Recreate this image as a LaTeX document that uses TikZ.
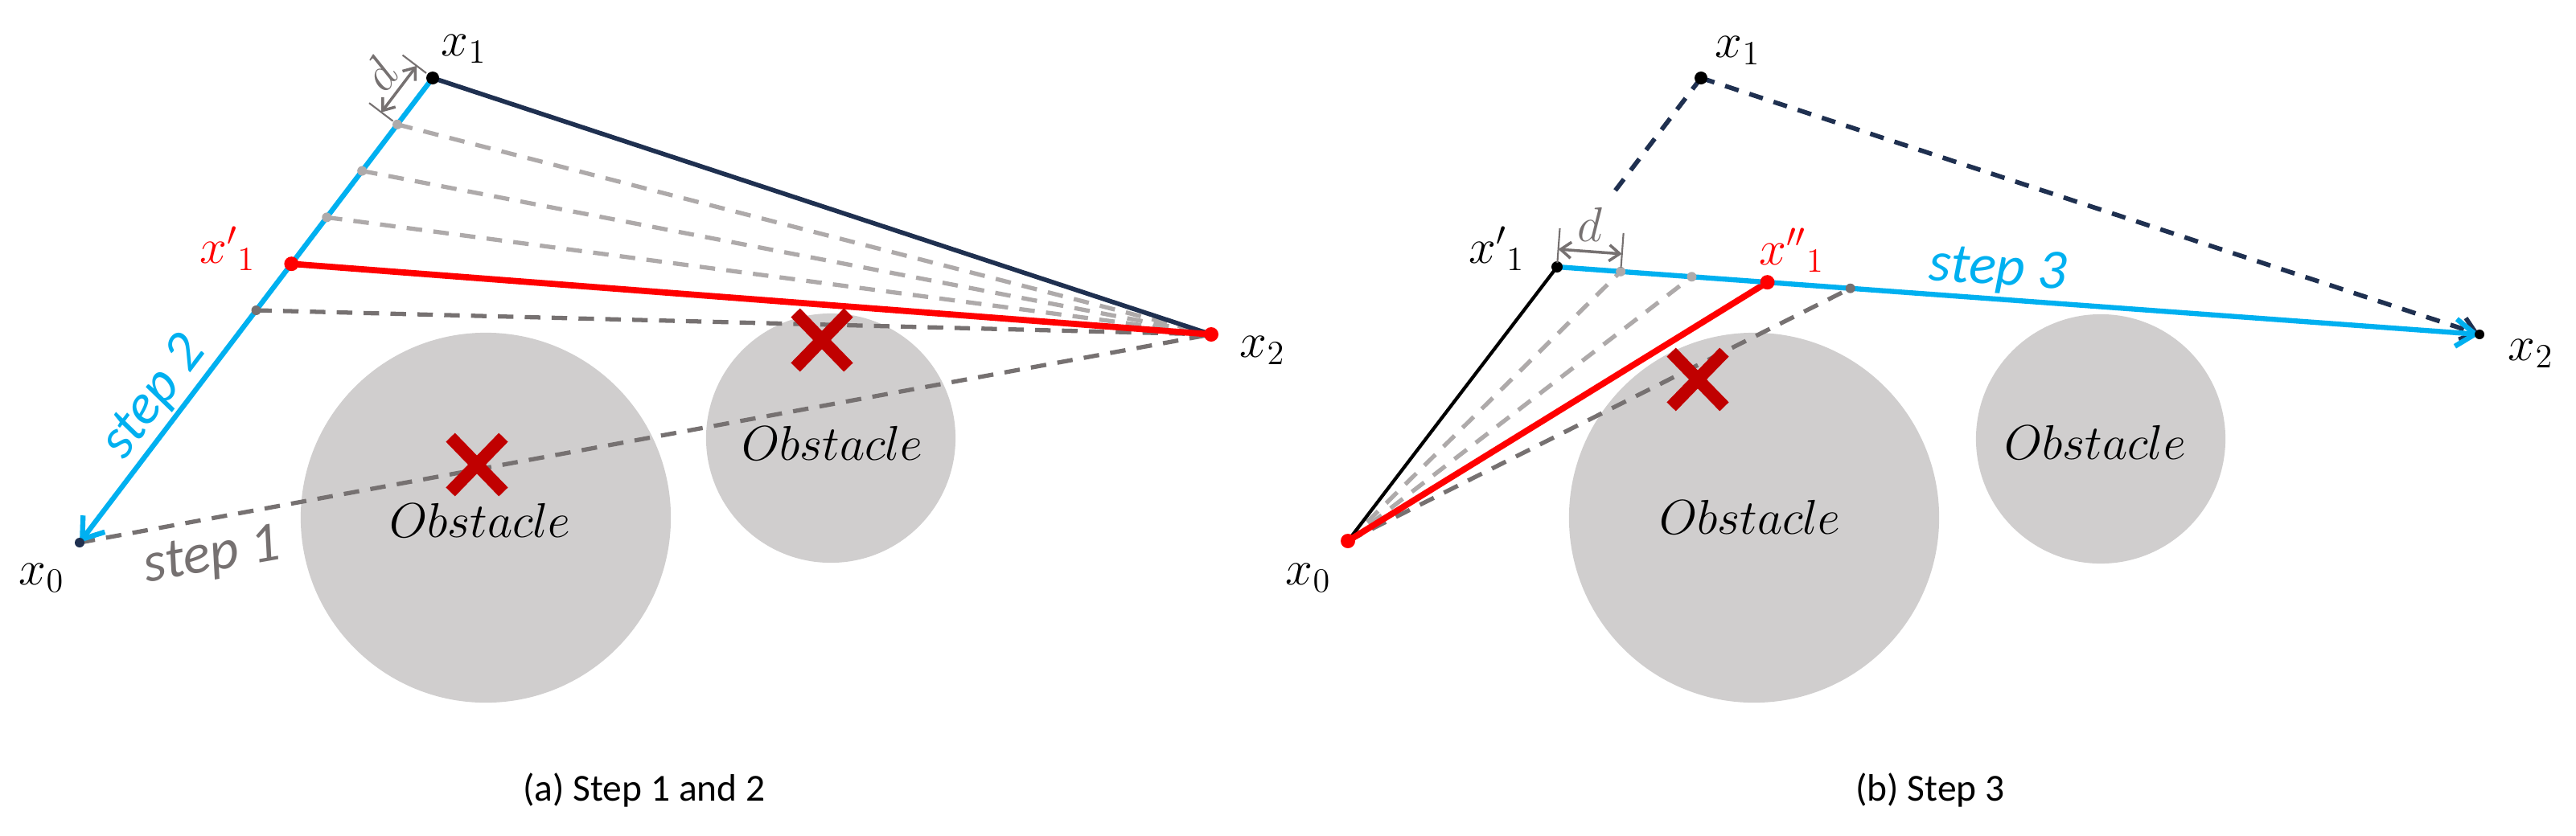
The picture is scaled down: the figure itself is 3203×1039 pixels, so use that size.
\documentclass[tikz,border=0pt]{standalone}
\usepackage[no-math]{fontspec}
\setmainfont{Carlito}
\usepackage{tikz}
\usetikzlibrary{arrows.meta,calc,shapes.misc,positioning}
\definecolor{stepBlue}{HTML}{00B0F0}
\definecolor{pathNavy}{HTML}{1F3050}
\definecolor{hitRed}{HTML}{C00000}
\definecolor{obsGray}{HTML}{D0CECE}
\definecolor{darkDash}{HTML}{767171}
\definecolor{lightDash}{HTML}{AEAAAA}
\tikzset{
    obstacle/.style={fill=obsGray},
    obsText/.style={font=\fontsize{18.5}{20}\selectfont, inner sep=0pt},
    ptLabel/.style={font=\fontsize{18}{20}\selectfont, inner sep=0pt},
    stepText/.style={font=\fontsize{20}{22}\selectfont\itshape, inner sep=1pt},
    capText/.style={font=\fontsize{13.5}{16}\selectfont},
    hit/.style={cross out, draw=hitRed, line width=4.5pt, minimum width=0.5cm, minimum height=0.52cm, inner sep=0pt},
    % Paths
    navyLine/.style={draw=pathNavy, line width=1.6pt},
    navyDash/.style={draw=pathNavy, line width=1.6pt, dash pattern=on 5pt off 4pt},
    bluePath/.style={draw=stepBlue, line width=1.8pt, -{Straight Barb[length=2.4mm, width=3.4mm]}},
    redPath/.style={draw=red, line width=2.2pt},
    ltDash/.style={draw=lightDash, line width=1.5pt, dash pattern=on 5.5pt off 4pt},
    dkDash/.style={draw=darkDash, line width=1.5pt, dash pattern=on 5.5pt off 4pt},
    dimLine/.style={draw=darkDash, line width=0.6pt},
    dimArrow/.style={draw=darkDash, line width=1pt, {Straight Barb[length=1.3mm, width=2mm]}-{Straight Barb[length=1.3mm, width=2mm]}}
}

\begin{document}
\begin{tikzpicture}[x=0.01cm, y=-0.01cm]
\useasboundingbox (0,0) rectangle (3203,1039);

% ---------- (a) Step 1 and 2 ----------
\coordinate (x0a) at (99,675);
\coordinate (x1a) at (538,97);
\coordinate (x2a) at (1506,416);
\coordinate (pa1) at ($(x1a)!0.1!(x0a)$);
\coordinate (pa2) at ($(x1a)!0.2!(x0a)$);
\coordinate (pa3) at ($(x1a)!0.3!(x0a)$);
\coordinate (x1pa) at ($(x1a)!0.4!(x0a)$);
\coordinate (pa5) at ($(x1a)!0.5!(x0a)$);

\fill[obstacle] (604,644) circle[radius=2.3cm];
\fill[obstacle] (1033,545) circle[radius=1.55cm];
\node[obsText] (obsA1) at (597,647) {$Obstacle$};
\node[obsText] (obsA2) at (1035,551) {$Obstacle$};

\foreach \p in {pa1,pa2,pa3}
    \draw[ltDash] (\p) -- (x2a);
\draw[dkDash] (pa5) -- (x2a);
\draw[dkDash] (x0a) -- (x2a);
\draw[navyLine] (x1a) -- (x2a);
\draw[redPath] (x1pa) -- (x2a);
\draw[bluePath] (x1a) -- (x0a);

\node[hit] (hitA1) at (593,578) {};
\node[hit] (hitA2) at (1022,423) {};

\foreach \p in {pa1,pa2,pa3}
    \fill[lightDash] (\p) circle[radius=0.06cm];
\fill[darkDash] (pa5) circle[radius=0.06cm];
\fill[red] (x1pa) circle[radius=0.09cm];
\fill[red] (x2a) circle[radius=0.09cm];
\fill[black] (x1a) circle[radius=0.08cm];
\fill[pathNavy] (x0a) circle[radius=0.06cm];

% distance d
\draw[dimLine] ($(x1a)!0.1cm!-90:(x0a)$) -- ($(x1a)!0.47cm!-90:(x0a)$);
\draw[dimLine] ($(pa1)!0.07cm!90:(x1a)$) -- ($(pa1)!0.44cm!90:(x1a)$);
\draw[dimArrow] ($(x1a)!0.25cm!-90:(x0a)$) -- node[sloped, above, ptLabel, text=darkDash, inner sep=2pt] (dA) {$d$} ($(pa1)!0.25cm!90:(x1a)$);

\node[ptLabel] (lx1a) at (577,61) {$x_1$};
\node[ptLabel, text=red] (lx1pa) at (283,309) {${x'}_1$};
\node[ptLabel] (lx0a) at (52,719) {$x_0$};
\node[ptLabel] (lx2a) at (1570,436) {$x_2$};
\node[stepText, text=stepBlue, rotate=52.8] (step2) at (192,495) {step 2};
\node[stepText, text=darkDash, rotate=10] (step1) at (264,693) {step 1};

\node[capText] (capA) at (801,983) {(a) Step 1 and 2};

% ---------- (b) Step 3 ----------
\coordinate (x0b) at (1676,673);
\coordinate (x1b) at (2115,97);
\coordinate (x1pb) at (1936,332);
\coordinate (x2b) at (3083,416);
\coordinate (gb1) at ($(x1pb)!0.069!(x2b)$);
\coordinate (gb2) at ($(x1pb)!0.146!(x2b)$);
\coordinate (x2pb) at ($(x1pb)!0.228!(x2b)$);
\coordinate (gb4) at ($(x1pb)!0.318!(x2b)$);
\coordinate (cutb) at ($(x1b)!0.6!(x1pb)$);

\fill[obstacle] (2181,644) circle[radius=2.3cm];
\fill[obstacle] (2612,546) circle[radius=1.55cm];
\node[obsText] (obsB1) at (2176,643) {$Obstacle$};
\node[obsText] (obsB2) at (2605,550) {$Obstacle$};

\draw[navyDash] (x1b) -- (cutb);
\draw[navyDash, -{Straight Barb[length=1.8mm, width=2.8mm]}] (x1b) -- (x2b);
\foreach \p in {gb1,gb2}
    \draw[ltDash] (x0b) -- (\p);
\draw[dkDash] (x0b) -- (gb4);
\draw[draw=black, line width=1.2pt] (x0b) -- (x1pb);
\draw[redPath] (x0b) -- (x2pb);
\draw[bluePath] (x1pb) -- (x2b);

\node[hit] (hitB) at (2111,472) {};

\foreach \p in {gb1,gb2}
    \fill[lightDash] (\p) circle[radius=0.06cm];
\fill[darkDash] (gb4) circle[radius=0.06cm];
\fill[red] (x2pb) circle[radius=0.09cm];
\fill[red] (x0b) circle[radius=0.09cm];
\fill[black] (x1b) circle[radius=0.08cm];
\fill[black] (x1pb) circle[radius=0.07cm];
\fill[black] (x2b) circle[radius=0.06cm];

% distance d
\draw[dimLine] ($(x1pb)!0.05cm!90:(x2b)$) -- ($(x1pb)!0.48cm!90:(x2b)$);
\draw[dimLine] ($(gb1)!0.05cm!90:(x2b)$) -- ($(gb1)!0.48cm!90:(x2b)$);
\draw[dimArrow] ($(x1pb)!0.22cm!90:(x2b)$) -- node[above, ptLabel, text=darkDash, inner sep=3pt] (dB) {$d$} ($(gb1)!0.22cm!90:(x2b)$);

\node[ptLabel] (lx1b) at (2161,63) {$x_1$};
\node[ptLabel] (lx1pb) at (1861,309) {${x'}_1$};
\node[ptLabel, text=red] (lx2pb) at (2228,311) {${x''}_1$};
\node[ptLabel] (lx0b) at (1627,719) {$x_0$};
\node[ptLabel] (lx2b) at (3147,440) {$x_2$};
\node[stepText, text=stepBlue, rotate=-4] (step3) at (2484,337) {step 3};

\node[capText] (capB) at (2400,983) {(b) Step 3};
\end{tikzpicture}
\end{document}
